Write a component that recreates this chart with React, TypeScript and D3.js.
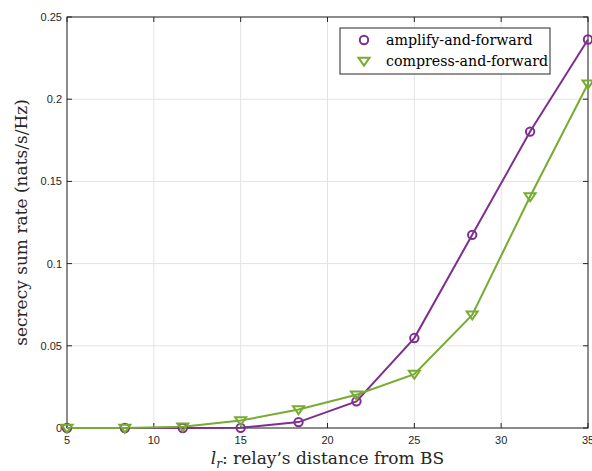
import React from "react";
import * as d3 from "d3";

const distances = [5, 8.333, 11.667, 15, 18.333, 21.667, 25, 28.333, 31.667, 35];
const afValues = [0, 0, 0, 0.0001, 0.0036, 0.0162, 0.0547, 0.1175, 0.1803, 0.2363];
const cfValues = [0, 0, 0.0008, 0.0045, 0.0112, 0.0202, 0.0328, 0.0688, 0.1408, 0.2094];
const xTicks = [5, 10, 15, 20, 25, 30, 35];
const yTicks = [0, 0.05, 0.1, 0.15, 0.2, 0.25];
const seriesNames = ["amplify-and-forward", "compress-and-forward"];
const seriesColors = ["#7E2F8E", "#77AC30"];

export default function App() {
  const W = 592, H = 471;
  const left = 67, right = 588, top = 17, bottom = 428;
  const x = d3.scaleLinear().domain([5, 35]).range([left, right]);
  const y = d3.scaleLinear().domain([0, 0.25]).range([bottom, top]);
  const line = d3.line<number>().x((_, i) => x(distances[i])).y((d) => y(d));
  const tri = (cx: number, cy: number) => {
    const s = 5.5;
    return `M${cx - s},${cy - s * 0.6}L${cx + s},${cy - s * 0.6}L${cx},${cy + s * 0.85}Z`;
  };
  return (
    <svg width={W} height={H} style={{ position: "absolute", left: 0, top: 0, background: "#fff" }}>
      <rect x={0} y={0} width={W} height={H} fill="#fff" />
      {xTicks.map((t) => (
        <line key={"gx" + t} x1={x(t)} x2={x(t)} y1={top} y2={bottom} stroke="#e3e3e3" strokeWidth={1} />
      ))}
      {yTicks.map((t) => (
        <line key={"gy" + t} x1={left} x2={right} y1={y(t)} y2={y(t)} stroke="#e3e3e3" strokeWidth={1} />
      ))}
      <rect x={left} y={top} width={right - left} height={bottom - top} fill="none" stroke="#262626" strokeWidth={1} />
      {xTicks.map((t) => (
        <g key={"tx" + t}>
          <line x1={x(t)} x2={x(t)} y1={bottom} y2={bottom - 5} stroke="#262626" />
          <line x1={x(t)} x2={x(t)} y1={top} y2={top + 5} stroke="#262626" />
          <text x={x(t)} y={bottom + 16} textAnchor="middle" fontFamily="Liberation Sans, Arial, sans-serif" fontSize={11} fill="#262626">{t}</text>
        </g>
      ))}
      {yTicks.map((t) => (
        <g key={"ty" + t}>
          <line x1={left} x2={left + 5} y1={y(t)} y2={y(t)} stroke="#262626" />
          <line x1={right} x2={right - 5} y1={y(t)} y2={y(t)} stroke="#262626" />
          <text x={left - 5} y={y(t) + 4} textAnchor="end" fontFamily="Liberation Sans, Arial, sans-serif" fontSize={11} fill="#262626">{t}</text>
        </g>
      ))}
      <path d={line(afValues) || ""} fill="none" stroke={seriesColors[0]} strokeWidth={2} />
      <path d={line(cfValues) || ""} fill="none" stroke={seriesColors[1]} strokeWidth={2} />
      {afValues.map((v, i) => (
        <circle key={"a" + i} cx={x(distances[i])} cy={y(v)} r={4.2} fill="none" stroke={seriesColors[0]} strokeWidth={2} />
      ))}
      {cfValues.map((v, i) => (
        <path key={"c" + i} d={tri(x(distances[i]), y(v))} fill="none" stroke={seriesColors[1]} strokeWidth={2} strokeLinejoin="miter" />
      ))}
      <g>
        <rect x={340} y={28} width={210} height={46} fill="#fff" stroke="#262626" strokeWidth={1} />
        <circle cx={364} cy={40} r={4.2} fill="none" stroke={seriesColors[0]} strokeWidth={2} />
        <path d={tri(364, 61)} fill="none" stroke={seriesColors[1]} strokeWidth={2} />
        <text x={386} y={45} fontFamily="DejaVu Serif, serif" fontSize={14.2} fill="#000">{seriesNames[0]}</text>
        <text x={386} y={66} fontFamily="DejaVu Serif, serif" fontSize={14.2} fill="#000">{seriesNames[1]}</text>
      </g>
      <text transform={`translate(27,${(top + bottom) / 2}) rotate(-90)`} textAnchor="middle" fontFamily="DejaVu Serif, serif" fontSize={17} fill="#262626">secrecy sum rate (nats/s/Hz)</text>
      <text x={(left + right) / 2} y={464} textAnchor="middle" fontFamily="DejaVu Serif, serif" fontSize={17} fill="#262626">
        <tspan fontStyle="italic">l</tspan>
        <tspan fontStyle="italic" fontSize={12} dy={4}>r</tspan>
        <tspan dy={-4}>: relay’s distance from BS</tspan>
      </text>
    </svg>
  );
}
